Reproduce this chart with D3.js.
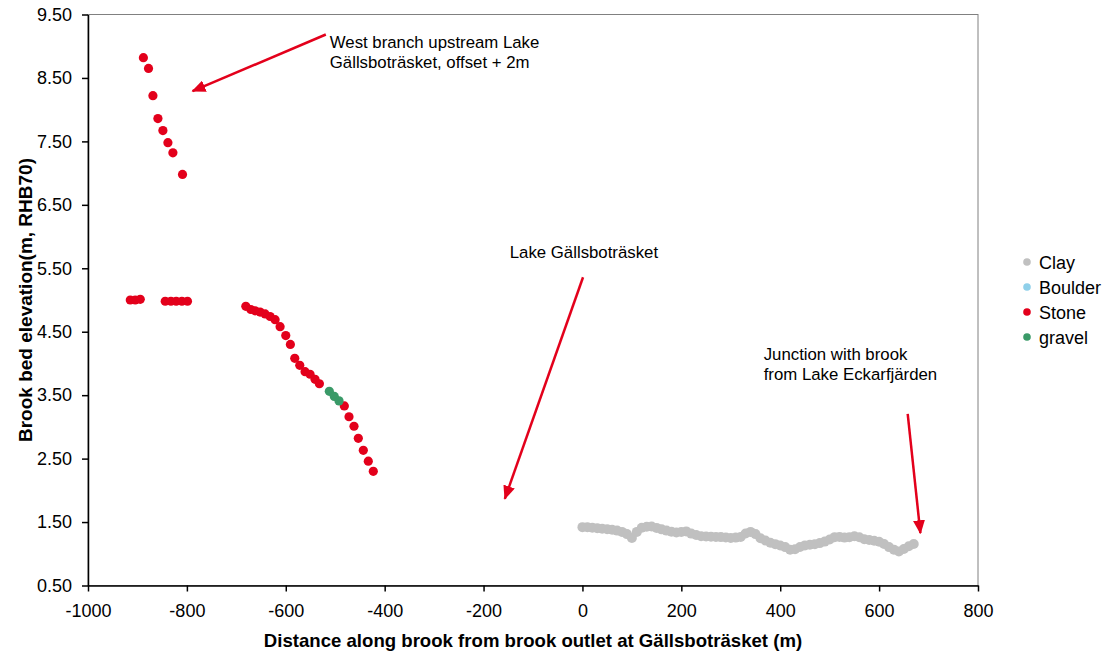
<!DOCTYPE html>
<head>
    <meta charset="utf-8" />
    <script src="https://d3js.org/d3.v7.min.js"></script>
    <style>
        body {
            margin: 0;
            background: #fff;
        }
        text {
            font-family: "Liberation Sans", Arial, sans-serif;
            fill: #000;
        }
        .axis path, .axis line {
            stroke: #000;
            stroke-width: 1.5;
        }
        .axis text {
            font-size: 18px;
        }
    </style>
    <title>Brook profile</title>
</head>

<body>
    <script>
        // --- data ---
        var clayX = [0, 10, 20, 30, 40, 50, 60, 70, 80, 90, 100, 110, 120, 130, 140, 150, 160, 170, 180, 190,
            200, 210, 220, 230, 240, 250, 260, 270, 280, 290, 300, 310, 320, 330, 340, 350, 360, 370, 380, 390,
            400, 410, 420, 430, 440, 450, 460, 470, 480, 490, 500, 510, 520, 530, 540, 550, 560, 570, 580, 590,
            600, 610, 620, 630, 640, 650, 660, 670];
        var clayY = [1.42, 1.417, 1.41, 1.403, 1.395, 1.387, 1.378, 1.365, 1.345, 1.31, 1.25, 1.345, 1.41, 1.425, 1.43, 1.408, 1.385, 1.365, 1.348, 1.336,
            1.345, 1.353, 1.318, 1.295, 1.278, 1.271, 1.269, 1.266, 1.263, 1.258, 1.25, 1.255, 1.265, 1.32, 1.345, 1.31, 1.245, 1.21, 1.175, 1.152,
            1.13, 1.105, 1.065, 1.07, 1.107, 1.132, 1.142, 1.15, 1.168, 1.192, 1.225, 1.262, 1.266, 1.255, 1.262, 1.277, 1.26, 1.228, 1.216, 1.205,
            1.19, 1.155, 1.105, 1.065, 1.035, 1.075, 1.12, 1.155];

        var boulderX = [];
        var boulderY = [];

        var stoneX = [-888, -877.6, -868.7, -858.6, -848.5, -838.4, -828.3, -808.9,
            -914.5, -904.4, -894.3, -843.8, -832.3, -821.6, -810.1, -798.8,
            -680.8, -670.7, -662, -651.9, -641.8, -631.7, -621.6, -611.5, -600, -590.7, -581.8, -571.7, -561, -550.9, -540.8, -532,
            -481.6, -472.1, -462, -453.3, -443.2, -433.1, -423];
        var stoneY = [8.82, 8.65, 8.22, 7.86, 7.67, 7.48, 7.32, 6.98,
            5.0, 5.0, 5.01, 4.98, 4.98, 4.98, 4.98, 4.98,
            4.90, 4.85, 4.83, 4.81, 4.78, 4.74, 4.69, 4.58, 4.44, 4.30, 4.08, 3.97, 3.87, 3.83, 3.75, 3.68,
            3.33, 3.16, 3.01, 2.82, 2.63, 2.46, 2.30];

        var gravelX = [-511.9, -501.8, -492.3];
        var gravelY = [3.56, 3.48, 3.41];

        var seriesNames = ["Clay", "Boulder", "Stone", "gravel"];
        var seriesColors = ["#c0c0c0", "#8fd0ea", "#e3001b", "#3a9a68"];

        var xTicks = [-1000, -800, -600, -400, -200, 0, 200, 400, 600, 800];
        var yTicks = [0.5, 1.5, 2.5, 3.5, 4.5, 5.5, 6.5, 7.5, 8.5, 9.5];

        // annotations, in data units: text lines + arrow from/to
        var notes = [
            {lines: ["West branch upstream Lake", "Gällsboträsket, offset + 2m"], tx: -511, ty: 8.975, from: [-519, 9.185], to: [-788.7, 8.291]},
            {lines: ["Lake Gällsboträsket"], tx: -147, ty: 5.659, from: [1.2, 5.359], to: [-157, 1.866]},
            {lines: ["Junction with brook", "from Lake Eckarfjärden"], tx: 366.6, ty: 4.057, from: [657.8, 3.206], to: [683.5, 1.324]}
        ];

        var width = 1110,
            height = 657;

        var svg = d3.select("body").append("svg")
            .attr("width", width)
            .attr("height", height);

        var x = d3.scaleLinear().domain([-1000, 800]).range([88, 978]);
        var y = d3.scaleLinear().domain([0.5, 9.5]).range([585.5, 14.5]);

        // plot area border
        svg.append("rect")
            .attr("x", x(-1000)).attr("y", y(9.5))
            .attr("width", x(800) - x(-1000)).attr("height", y(0.5) - y(9.5))
            .attr("fill", "none").attr("stroke", "#808080").attr("stroke-width", 1);

        var series = [
            {x: clayX, y: clayY, r: 5},
            {x: boulderX, y: boulderY, r: 4.6},
            {x: stoneX, y: stoneY, r: 4.6},
            {x: gravelX, y: gravelY, r: 4.6}
        ];

        series.forEach(function (s, i) {
            svg.append("g").selectAll("circle")
                .data(d3.range(s.x.length))
                .join("circle")
                .attr("cx", j => x(s.x[j]))
                .attr("cy", j => y(s.y[j]))
                .attr("r", s.r)
                .attr("fill", seriesColors[i]);
        });

        // axes
        svg.append("g")
            .attr("class", "axis")
            .attr("transform", "translate(0," + y(0.5) + ")")
            .call(d3.axisBottom(x).tickValues(xTicks).tickSize(6).tickPadding(13).tickSizeOuter(0).tickFormat(d3.format("d")))
            .call(g => g.selectAll("text").text(d => d < 0 ? "-" + Math.abs(d) : d));

        svg.append("g")
            .attr("class", "axis")
            .attr("transform", "translate(" + x(-1000) + ",0)")
            .call(d3.axisLeft(y).tickValues(yTicks).tickSize(6).tickPadding(10).tickSizeOuter(0).tickFormat(d3.format(".2f")));

        // axis titles
        svg.append("text")
            .attr("x", (x(-1000) + x(800)) / 2)
            .attr("y", 647)
            .attr("text-anchor", "middle")
            .style("font-size", "18.6px")
            .style("font-weight", "bold")
            .text("Distance along brook from brook outlet at Gällsboträsket (m)");

        svg.append("text")
            .attr("transform", "translate(32," + (y(0.5) + y(9.5)) / 2 + ") rotate(-90)")
            .attr("text-anchor", "middle")
            .style("font-size", "19px")
            .style("font-weight", "bold")
            .text("Brook bed elevation(m, RHB70)");

        // arrows
        svg.append("defs").append("marker")
            .attr("id", "head")
            .attr("markerUnits", "userSpaceOnUse")
            .attr("viewBox", "0 0 14 12")
            .attr("markerWidth", 14).attr("markerHeight", 12)
            .attr("refX", 13).attr("refY", 6)
            .attr("orient", "auto")
            .append("path")
            .attr("d", "M0,0 L14,6 L0,12 Z")
            .attr("fill", "#e3001b");

        notes.forEach(function (n) {
            svg.append("line")
                .attr("x1", x(n.from[0])).attr("y1", y(n.from[1]))
                .attr("x2", x(n.to[0])).attr("y2", y(n.to[1]))
                .attr("stroke", "#e3001b").attr("stroke-width", 2.5)
                .attr("marker-end", "url(#head)");
            var t = svg.append("text")
                .attr("x", x(n.tx)).attr("y", y(n.ty))
                .style("font-size", "16.8px");
            n.lines.forEach(function (l, k) {
                t.append("tspan").attr("x", x(n.tx)).attr("dy", k === 0 ? 0 : 20.5).text(l);
            });
        });

        // legend
        var legend = svg.append("g").attr("transform", "translate(1027,262)");
        seriesNames.forEach(function (name, i) {
            legend.append("circle")
                .attr("cx", 0).attr("cy", i * 25)
                .attr("r", 3.8)
                .attr("fill", seriesColors[i]);
            legend.append("text")
                .attr("x", 12).attr("y", i * 25 + 6.5)
                .style("font-size", "18px")
                .text(name);
        });
    </script>
</body>
